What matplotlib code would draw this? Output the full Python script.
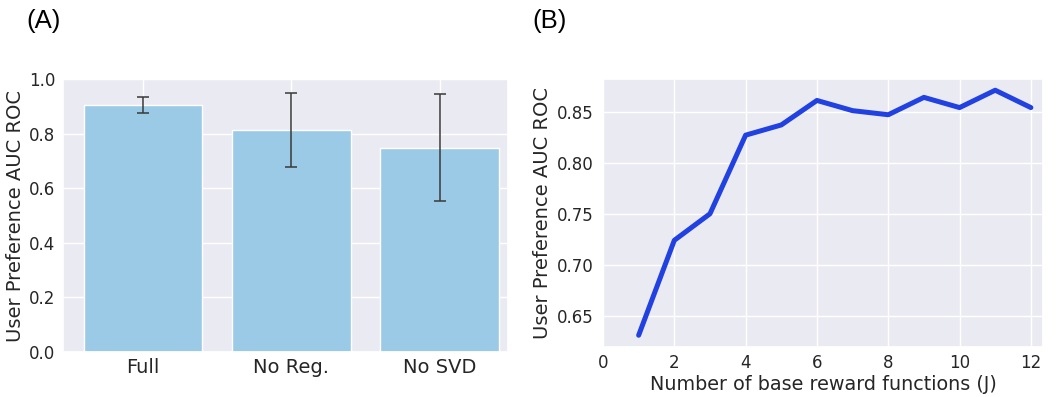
import numpy as np
import matplotlib
matplotlib.use('Agg')
import matplotlib.pyplot as plt
import seaborn as sns

#####################################################################
# DATA
#####################################################################

variants = ['Full', 'No Reg.', 'No SVD']
auc_means = [0.905, 0.812, 0.748]
auc_low = [0.876, 0.679, 0.553]
auc_high = [0.935, 0.950, 0.944]

num_base = [1, 2, 3, 4, 5, 6, 7, 8, 9, 10, 11, 12]
auc_by_j = [0.631, 0.724, 0.750, 0.827, 0.837, 0.861, 0.851, 0.847, 0.864, 0.854, 0.871, 0.854]

#####################################################################
# SETUP
#####################################################################

sns.set_theme(style='darkgrid')
plt.rcParams['text.color'] = '#262626'

W, H = 1059, 397
fig = plt.figure(figsize=(W / 100, H / 100), dpi=100)

def box(left, right, top, bottom):
	return [left / W, 1 - bottom / H, (right - left) / W, (bottom - top) / H]

#####################################################################
# (A) ABLATION
#####################################################################

ax1 = fig.add_axes(box(63, 508, 79, 352))
pos = np.arange(len(variants))
err = [np.array(auc_means) - np.array(auc_low), np.array(auc_high) - np.array(auc_means)]
ax1.bar(pos, auc_means, width=0.8, color='#9acae6', zorder=2)
ax1.errorbar(pos, auc_means, yerr=err, fmt='none', ecolor='#3a3a3a', elinewidth=1.3,
	capsize=4, capthick=1.3, alpha=0.85, zorder=3)
ax1.set_xticks(pos)
ax1.set_xticklabels(variants, fontsize=14)
ax1.set_xlim(-0.54, 2.46)
ax1.set_ylim(0, 1.0)
ax1.set_yticks([0.0, 0.2, 0.4, 0.6, 0.8, 1.0])
ax1.tick_params(axis='y', labelsize=12, length=0, pad=5.5)
ax1.tick_params(axis='x', length=0, pad=4.5)
ax1.set_ylabel('User Preference AUC ROC', fontsize=14, labelpad=3)

#####################################################################
# (B) NUMBER OF BASE REWARDS
#####################################################################

ax2 = fig.add_axes(box(603, 1043, 79, 347))
ax2.plot(num_base, auc_by_j, color='#2141e0', linewidth=3.6)
ax2.set_xlim(0, 12.34)
ax2.set_ylim(0.6195, 0.882)
ax2.set_xticks([0, 2, 4, 6, 8, 10, 12])
ax2.set_yticks([0.65, 0.70, 0.75, 0.80, 0.85])
ax2.tick_params(axis='y', labelsize=12, length=0, pad=7)
ax2.tick_params(axis='x', labelsize=12, length=0, pad=5)
ax2.set_xlabel('Number of base reward functions (J)', fontsize=13.8, labelpad=2.5)
ax2.set_ylabel('User Preference AUC ROC', fontsize=14, labelpad=3)

fig.text(26 / W, 1 - 9 / H, '(A)', fontsize=18.5, family='Liberation Sans', color='black', va='top')
fig.text(532 / W, 1 - 9 / H, '(B)', fontsize=18.5, family='Liberation Sans', color='black', va='top')

fig.savefig('out.png', dpi=100)
